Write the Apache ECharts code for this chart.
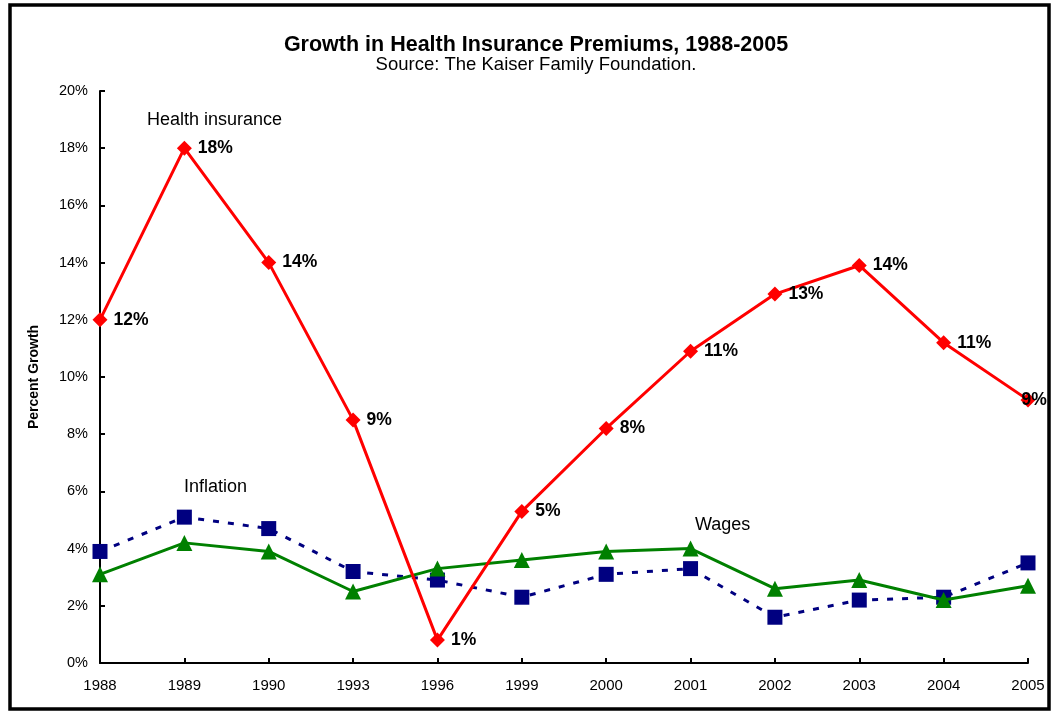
<!DOCTYPE html>
<html><head><meta charset="utf-8">
<script src="https://cdn.jsdelivr.net/npm/echarts@6/dist/echarts.min.js"></script>
<style>html,body{margin:0;padding:0;background:#fff}#c{width:1058px;height:713px}</style>
</head><body><div id="c"></div>
<script>
const years = ['1988','1989','1990','1993','1996','1999','2000','2001','2002','2003','2004','2005'];
const healthInsurance = [12.0, 18.0, 14.0, 8.5, 0.8, 5.3, 8.2, 10.9, 12.9, 13.9, 11.2, 9.2];
const inflation = [3.9, 5.1, 4.7, 3.2, 2.9, 2.3, 3.1, 3.3, 1.6, 2.2, 2.3, 3.5];
const wages = [3.1, 4.2, 3.9, 2.5, 3.3, 3.6, 3.9, 4.0, 2.6, 2.9, 2.2, 2.7];
const yTicks = ['0%','2%','4%','6%','8%','10%','12%','14%','16%','18%','20%'];

const FONT = 'Liberation Sans, Arial, sans-serif';
const chart = echarts.init(document.getElementById('c'));
const healthData = healthInsurance.map((v, i) => {
  const d = {value: v};
  if (i === healthInsurance.length - 1) d.label = {offset: [-20, 0]};
  return d;
});
chart.setOption({
  animation: false,
  backgroundColor: '#fff',
  textStyle: {fontFamily: FONT},
  title: [
    {text: 'Growth in Health Insurance Premiums, 1988-2005', left: 531, top: 29, textAlign: 'center',
     textStyle: {fontFamily: FONT, fontSize: 21.5, fontWeight: 'bold', color: '#000'}},
    {text: 'Source: The Kaiser Family Foundation.', left: 531, top: 50, textAlign: 'center',
     textStyle: {fontFamily: FONT, fontSize: 18.5, fontWeight: 'normal', color: '#000'}}
  ],
  grid: {left: 100, right: 30, top: 91, bottom: 50, containLabel: false},
  xAxis: {
    type: 'category', data: years, boundaryGap: false,
    axisLine: {lineStyle: {color: '#000', width: 2}},
    axisTick: {inside: true, length: 5, alignWithLabel: true, lineStyle: {color: '#000', width: 2}},
    axisLabel: {color: '#000', fontSize: 15, margin: 15, fontFamily: FONT},
    splitLine: {show: false}
  },
  yAxis: {
    type: 'value', min: 0, max: 20, interval: 2,
    name: 'Percent Growth', nameLocation: 'middle', nameGap: 59,
    nameTextStyle: {fontFamily: FONT, fontSize: 14, fontWeight: 'bold', color: '#000'},
    axisLine: {show: true, lineStyle: {color: '#000', width: 2}},
    axisTick: {show: true, inside: true, length: 5, lineStyle: {color: '#000', width: 2}},
    axisLabel: {color: '#000', fontSize: 14.5, margin: 12, fontFamily: FONT,
      formatter: (v) => yTicks[Math.round(v / 2)]},
    splitLine: {show: false}
  },
  series: [
    {name: 'Inflation', type: 'line', data: inflation, symbol: 'rect', symbolSize: 15,
     itemStyle: {color: '#000080'}, lineStyle: {color: '#000080', width: 3, type: [6, 9]}, z: 2},
    {name: 'Wages', type: 'line', data: wages, symbol: 'triangle', symbolSize: 16,
     itemStyle: {color: '#008000'}, lineStyle: {color: '#008000', width: 3}, z: 3},
    {name: 'Health insurance', type: 'line', data: healthData, symbol: 'diamond', symbolSize: 15,
     itemStyle: {color: '#ff0000'}, lineStyle: {color: '#ff0000', width: 3}, z: 4,
     label: {show: true, position: 'right', distance: 6, color: '#000', fontSize: 17.5, fontWeight: 'bold',
       fontFamily: FONT, formatter: (p) => Math.round(p.value) + '%'}}
  ],
  graphic: [
    {type: 'rect', shape: {x: 10, y: 5, width: 1039, height: 704}, style: {fill: 'none', stroke: '#000', lineWidth: 3.5}, silent: true},
    {type: 'text', left: 147, top: 111, style: {text: 'Health insurance', font: '18px ' + FONT, fill: '#000'}},
    {type: 'text', left: 184, top: 478, style: {text: 'Inflation', font: '18px ' + FONT, fill: '#000'}},
    {type: 'text', left: 695, top: 516, style: {text: 'Wages', font: '18px ' + FONT, fill: '#000'}}
  ]
});
</script></body></html>
